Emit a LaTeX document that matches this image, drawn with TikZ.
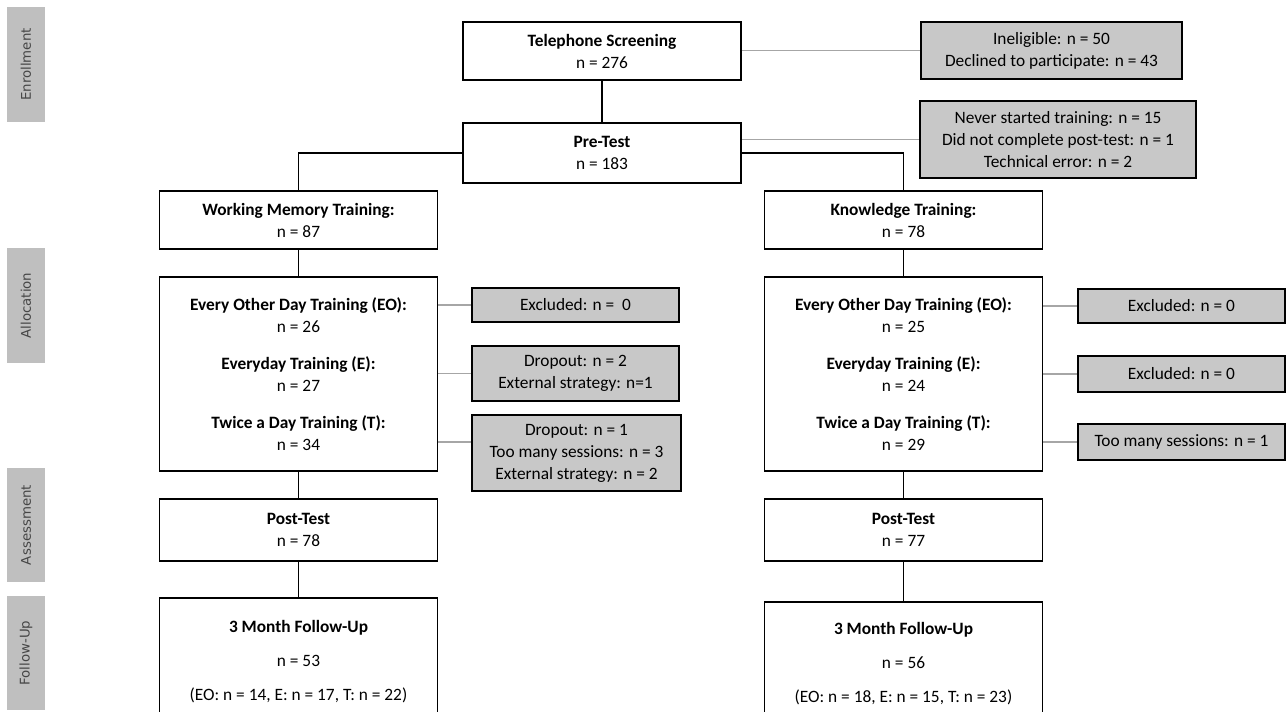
\documentclass[tikz,border=0pt]{standalone}
\usepackage{fontspec}
\setmainfont{Carlito}
\newfontfamily\sidefont{DejaVu Sans}
\definecolor{boxgray}{HTML}{C8C8C8}
\definecolor{sidegray}{HTML}{BFBFBF}
\definecolor{sidetext}{HTML}{464646}
\definecolor{linegray}{HTML}{A6A6A6}

\begin{document}
\begin{tikzpicture}[x = 0.75pt, y = -0.75pt,
        every node/.style = {font = {\fontsize{13pt}{16.5pt}\selectfont}, align = center, inner sep = 0pt},
        whitebox/.style = {draw = black, line width = 1.4pt, fill = white, minimum width = 208.5pt},
        graybox/.style = {draw = black, line width = 1.4pt, fill = boxgray, minimum width = 155pt},
        sidebox/.style = {fill = sidegray, minimum width = 86pt, minimum height = 28.5pt, rotate = 90,
            font = {\sidefont\fontsize{10pt}{12pt}\selectfont}, text = sidetext},
        link/.style = {line width = 1.2pt, black},
        greylink/.style = {line width = 1.2pt, linegray}]
        \path[use as bounding box, clip] (0, 0) rectangle (1287, 711);

        \node[sidebox] (enroll) at (26, 64.5) {Enrollment};
        \node[sidebox] (allocation) at (26, 305.5) {Allocation};
        \node[sidebox] (assess) at (26, 525) {Assessment};
        \node[sidebox] (followup) at (26, 653) {Follow-Up};

        \node[whitebox, minimum height = 43.5pt] (phone) at (602, 51) {\textbf{Telephone Screening}\\n = 276};
        \node[graybox, minimum width = 196pt, minimum height = 43pt] (ineligible) at (1051.5, 50.5) {Ineligible: n = 50\\Declined to participate: n = 43};
        \node[whitebox, minimum height = 45pt] (pretest) at (602, 153) {\textbf{Pre-Test}\\n = 183};
        \node[graybox, minimum width = 207pt, minimum height = 58pt] (dropped) at (1058, 139.5) {Never started training: n = 15\\Did not complete post-test: n = 1\\Technical error: n = 2};

        \node[whitebox, minimum height = 43.5pt] (wmtrain) at (298.5, 220) {\textbf{Working Memory Training:}\\n = 87};
        \node[whitebox, minimum height = 43.5pt] (kntrain) at (903.5, 220) {\textbf{Knowledge Training:}\\n = 78};

        \node[whitebox, minimum height = 146pt] (wmgroups) at (298.5, 374) {\textbf{Every Other Day Training (EO):}\\n = 26\\[11pt]\textbf{Everyday Training (E):}\\n = 27\\[11pt]\textbf{Twice a Day Training (T):}\\n = 34};
        \node[whitebox, minimum height = 146pt] (kngroups) at (903.5, 374) {\textbf{Every Other Day Training (EO):}\\n = 25\\[11pt]\textbf{Everyday Training (E):}\\n = 24\\[11pt]\textbf{Twice a Day Training (T):}\\n = 29};

        \node[graybox, minimum height = 25.5pt] (wmeo) at (575.5, 305) {Excluded: n =\ \ 0};
        \node[graybox, minimum height = 41pt] (wme) at (575.5, 373.5) {Dropout: n = 2\\External strategy: n=1};
        \node[graybox, minimum width = 157pt, minimum height = 57pt] (wmt) at (576.5, 453) {Dropout: n = 1\\Too many sessions: n = 3\\External strategy: n = 2};
        \node[graybox, minimum height = 25.5pt] (kneo) at (1181.5, 306) {Excluded: n = 0};
        \node[graybox, minimum height = 27pt] (kne) at (1181.5, 374) {Excluded: n = 0};
        \node[graybox, minimum height = 27pt] (knt) at (1181.5, 442) {Too many sessions: n = 1};

        \node[whitebox, minimum height = 46.5pt] (wmpost) at (298.5, 530) {\textbf{Post-Test}\\n = 78};
        \node[whitebox, minimum height = 46.5pt] (knpost) at (903.5, 530) {\textbf{Post-Test}\\n = 77};
        \node[whitebox, minimum height = 96pt] (wmfollow) at (298.5, 662) {\textbf{3 Month Follow-Up}\\[9pt]n = 53\\[9pt](EO: n = 14, E: n = 17, T: n = 22)};
        \node[whitebox, minimum height = 93pt] (knfollow) at (903.5, 664) {\textbf{3 Month Follow-Up}\\[9pt]n = 56\\[9pt](EO: n = 18, E: n = 15, T: n = 23)};

        \draw[link] (phone) -- (pretest);
        \draw[link] (pretest.west) -| (wmtrain.north);
        \draw[link] (pretest.east) -| (kntrain.north);
        \draw[link] (wmtrain) -- (wmgroups);
        \draw[link] (kntrain) -- (kngroups);
        \draw[link] (wmgroups) -- (wmpost);
        \draw[link] (kngroups) -- (knpost);
        \draw[link] (wmpost) -- (wmfollow);
        \draw[link] (knpost) -- (knfollow);

        \draw[greylink] (ineligible.west -| phone.east) -- (ineligible.west);
        \draw[greylink] (dropped.west -| pretest.east) -- (dropped.west);
        \draw[greylink] (wmeo.west -| wmgroups.east) -- (wmeo.west);
        \draw[greylink] (wme.west -| wmgroups.east) -- (wme.west);
        \draw[greylink] (wmgroups.east |- 0, 442) -- (wmt.west |- 0, 442);
        \draw[greylink] (kneo.west -| kngroups.east) -- (kneo.west);
        \draw[greylink] (kne.west -| kngroups.east) -- (kne.west);
        \draw[greylink] (knt.west -| kngroups.east) -- (knt.west);
    \end{tikzpicture}
\end{document}
